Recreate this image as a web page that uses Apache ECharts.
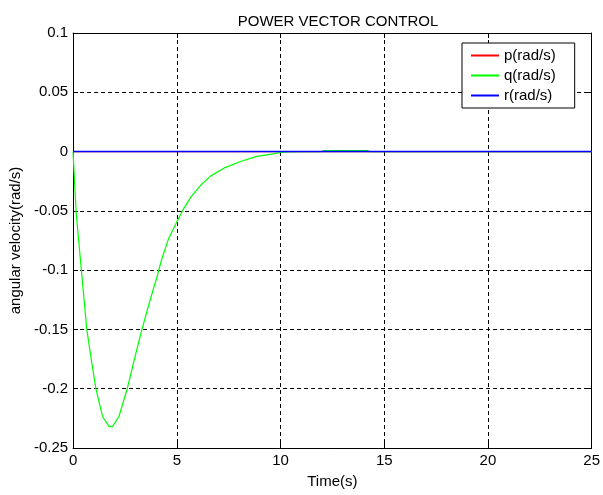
<!DOCTYPE html>
<html>
<head>
<meta charset="utf-8">
<script src="https://cdn.jsdelivr.net/npm/echarts@6/dist/echarts.min.js"></script>
<style>html,body{margin:0;padding:0;background:#fff;}#c{width:603px;height:495px;}</style>
</head>
<body>
<div id="c"></div>
<script>
const titleText = 'POWER VECTOR CONTROL';
const xName = 'Time(s)';
const yName = 'angular velocity(rad/s)';
const seriesNames = ['p(rad/s)', 'q(rad/s)', 'r(rad/s)'];
const xTicks = [0, 5, 10, 15, 20, 25];
const yTicks = [-0.25, -0.2, -0.15, -0.1, -0.05, 0, 0.05, 0.1];

const tFlat = [0, 25];
const pVals = [0, 0];
const rVals = [0, 0];
const tQ = [0, 0.02, 0.15, 0.4, 0.66, 0.9, 1.1, 1.42, 1.74, 1.9, 2.21, 2.61, 3.0, 3.32, 3.7, 4.04, 4.27, 4.59, 4.98, 5.3, 5.69, 6.17, 6.64, 7.27, 8.07, 8.86, 9.65, 10.0, 10.3, 11.0, 12.0, 12.1, 14.2, 14.3, 25];
const qVals = [0, -0.008, -0.052, -0.1, -0.15, -0.178, -0.2, -0.2234, -0.232, -0.232, -0.2234, -0.2, -0.172, -0.15, -0.126, -0.106, -0.091, -0.074, -0.06, -0.049, -0.038, -0.028, -0.0205, -0.014, -0.0084, -0.0041, -0.0019, -0.0008, -0.0003, -0.0001, 0, 0.0008, 0.0008, 0, 0];

const pair = (ts, vs) => ts.map((t, i) => [t, vs[i]]);
const font = 'Liberation Sans, Arial, sans-serif';
const fs = 15;
const fmt = v => String(+v.toFixed(2));

const chart = echarts.init(document.getElementById('c'), null, {renderer: 'canvas'});
const axisCommon = {
  type: 'value',
  axisLine: {show: true, onZero: false, lineStyle: {color: '#000', width: 1}},
  axisTick: {show: true, inside: true, length: 5, lineStyle: {color: '#000'}},
};
chart.setOption({
  animation: false,
  backgroundColor: '#fff',
  title: {text: titleText, left: 333, top: 9, textAlign: 'center',
    textStyle: {fontFamily: font, fontSize: fs, fontWeight: 'normal', color: '#000'}},
  grid: {left: 70, right: 7, top: 33, bottom: 47, show: false},
  legend: {
    orient: 'vertical', left: 462, top: 43,
    data: seriesNames,
    itemWidth: 28, itemHeight: 14, itemGap: 5,
    padding: [5, 19, 5, 8],
    borderColor: '#000', borderWidth: 1, backgroundColor: '#fff',
    itemStyle: {opacity: 0},
    textStyle: {fontFamily: font, fontSize: fs, color: '#000'},
  },
  xAxis: [
    Object.assign({}, axisCommon, {
      min: xTicks[0], max: xTicks[xTicks.length - 1], interval: 5, position: 'bottom',
      name: xName, nameLocation: 'middle', nameGap: 26,
      nameTextStyle: {fontFamily: font, fontSize: fs, color: '#000'},
      axisLabel: {fontFamily: font, fontSize: fs, color: '#000', margin: 5, formatter: fmt},
      splitLine: {show: true, lineStyle: {color: '#000', type: [4, 3], width: 1}},
    }),
    Object.assign({}, axisCommon, {
      min: xTicks[0], max: xTicks[xTicks.length - 1], interval: 5, position: 'top',
      axisLabel: {show: false}, splitLine: {show: false},
    }),
  ],
  yAxis: [
    Object.assign({}, axisCommon, {
      min: yTicks[0], max: yTicks[yTicks.length - 1], interval: 0.05, position: 'left',
      name: yName, nameLocation: 'middle', nameGap: 48, nameRotate: 90,
      nameTextStyle: {fontFamily: font, fontSize: fs, color: '#000'},
      axisLabel: {fontFamily: font, fontSize: fs, color: '#000', margin: 5, formatter: fmt},
      splitLine: {show: true, lineStyle: {color: '#000', type: [4, 3], width: 1}},
    }),
    Object.assign({}, axisCommon, {
      min: yTicks[0], max: yTicks[yTicks.length - 1], interval: 0.05, position: 'right',
      axisLabel: {show: false}, splitLine: {show: false},
    }),
  ],
  series: [
    {name: seriesNames[0], type: 'line', data: pair(tFlat, pVals), showSymbol: false, symbol: 'none',
      lineStyle: {color: '#ff0000', width: 1.2}, itemStyle: {color: '#ff0000'}, color: '#ff0000'},
    {name: seriesNames[1], type: 'line', data: pair(tQ, qVals), showSymbol: false, symbol: 'none',
      lineStyle: {color: '#00ff00', width: 1.2}, itemStyle: {color: '#00ff00'}, color: '#00ff00'},
    {name: seriesNames[2], type: 'line', data: pair(tFlat, rVals), showSymbol: false, symbol: 'none',
      lineStyle: {color: '#0000ff', width: 1.6}, itemStyle: {color: '#0000ff'}, color: '#0000ff'},
  ],
});
</script>
</body>
</html>
